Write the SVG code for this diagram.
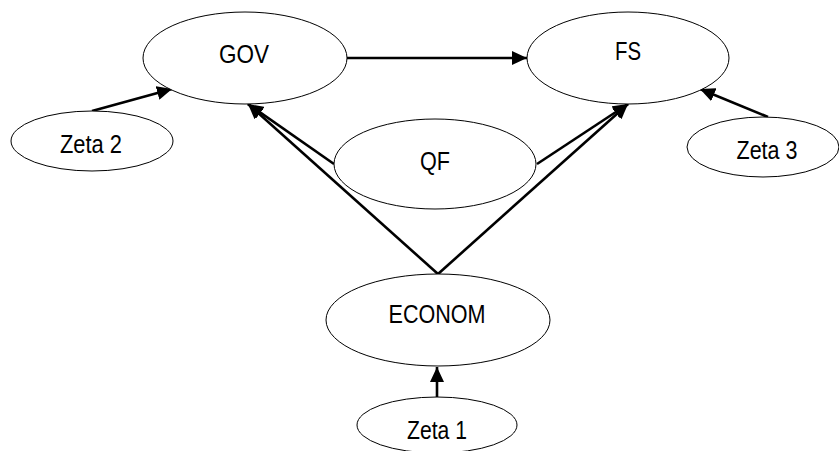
<svg xmlns="http://www.w3.org/2000/svg" width="839" height="451" viewBox="0 0 839 451">
<style>
.node ellipse{fill:#fff;stroke:#000;stroke-width:1}
.node text{font-family:"Liberation Sans Narrow","Liberation Sans",Arial,sans-serif;font-size:26px;fill:#000;text-anchor:middle}
.edge{fill:none;stroke:#000;stroke-width:2.6;marker-end:url(#ah)}
</style>
<defs>
<marker id="ah" markerUnits="userSpaceOnUse" markerWidth="16" markerHeight="14" refX="15" refY="7" orient="auto" viewBox="0 0 16 14">
<path d="M0,0 L15,7 L0,14 z" fill="#000"/>
</marker>
</defs>
<g id="connectors">
<line class="edge" x1="347" y1="58" x2="527" y2="58"/>
<line class="edge" x1="92" y1="111" x2="172" y2="89"/>
<line class="edge" x1="768" y1="117" x2="700" y2="89"/>
<line class="edge" x1="334" y1="164" x2="248" y2="104"/>
<line class="edge" x1="438" y1="274" x2="248" y2="104"/>
<line class="edge" x1="537" y1="164" x2="628" y2="104"/>
<line class="edge" x1="438" y1="274" x2="628" y2="104"/>
<line class="edge" x1="437" y1="397" x2="437" y2="367"/>
</g>
<g id="GOV" class="node"><ellipse cx="245" cy="58" rx="102" ry="46"/><text x="244" y="63" textLength="50" lengthAdjust="spacingAndGlyphs">GOV</text></g>
<g id="FS" class="node"><ellipse cx="628" cy="58" rx="101" ry="46"/><text x="628" y="60" textLength="26" lengthAdjust="spacingAndGlyphs">FS</text></g>
<g id="Zeta2" class="node"><ellipse cx="92" cy="141" rx="81" ry="30"/><text x="91" y="153" textLength="62" lengthAdjust="spacingAndGlyphs">Zeta 2</text></g>
<g id="Zeta3" class="node"><ellipse cx="763" cy="147" rx="76" ry="30"/><text x="767" y="159" textLength="61" lengthAdjust="spacingAndGlyphs">Zeta 3</text></g>
<g id="QF" class="node"><ellipse cx="435" cy="164" rx="101" ry="45"/><text x="435" y="170" textLength="30" lengthAdjust="spacingAndGlyphs">QF</text></g>
<g id="ECONOM" class="node"><ellipse cx="438" cy="320" rx="112" ry="46"/><text x="437" y="323" textLength="97" lengthAdjust="spacingAndGlyphs">ECONOM</text></g>
<g id="Zeta1" class="node"><ellipse cx="437" cy="425" rx="80" ry="28"/><text x="437" y="439" textLength="60" lengthAdjust="spacingAndGlyphs">Zeta 1</text></g>
</svg>
